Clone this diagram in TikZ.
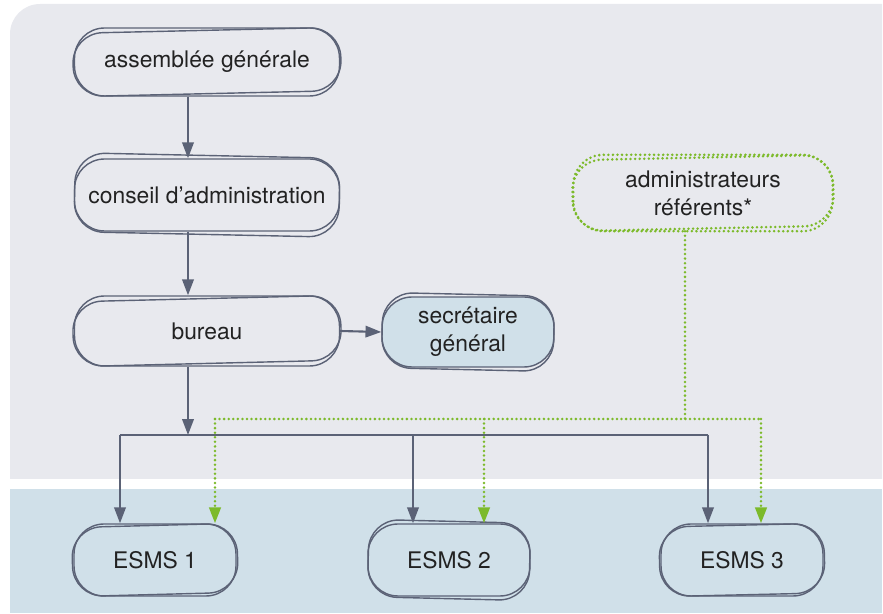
\documentclass[tikz,border=0pt]{standalone}
\usepackage{fontspec}
\setmainfont{TeX Gyre Heros}
\usepackage{xcolor}
\usetikzlibrary{arrows.meta}
\definecolor{linec}{HTML}{5B6276}
\definecolor{greenc}{HTML}{7CBA2A}
\definecolor{bggrey}{HTML}{E8E9EE}
\definecolor{bgblue}{HTML}{D0E0E9}
\definecolor{textc}{HTML}{222222}
\tikzset{
    box/.style={draw=linec, line width=0.8pt, rounded corners=0.6cm, align=center, text=textc,
        font=\fontsize{13}{16}\selectfont, inner sep=2pt},
    edge/.style={draw=linec, line width=0.8pt, rounded corners=0.6cm},
    arr/.style={linec, line width=1.2pt, -{Triangle[length=9pt, width=6.5pt]}},
    greenline/.style={greenc, line width=1.6pt, line cap=round, dash pattern=on 0pt off 2.6pt},
    greenarr/.style={greenline, -{Triangle[length=9pt, width=6.5pt, line cap=butt]}}
}
\begin{document}
\begin{tikzpicture}[x=0.02cm, y=-0.02cm]
            \useasboundingbox (0,0) rectangle (883,614);
            \fill[bggrey] (10,479) [rounded corners=0.6cm] -- (10,4) [sharp corners] -- (882,4) -- (882,479) -- cycle;
            \fill[bgblue] (10,489) rectangle (882,613);
            % boxes
            \node[box, minimum width=5.3cm, minimum height=1.36cm] (ag) at (207,62) {assemblée générale};
            \node[box, minimum width=5.3cm, minimum height=1.44cm] (ca) at (207,195) {conseil d’administration};
            \node[box, minimum width=5.3cm, minimum height=1.4cm] (bu) at (207,331) {bureau};
            \node[box, fill=bgblue, minimum width=3.44cm, minimum height=1.4cm] (sg) at (468,332) {secrétaire\\général};
            \node[box, draw=none, minimum width=5.16cm, minimum height=1.5cm] (ar) at (703,193) {administrateurs\\référents*};
            \node[box, minimum width=3.24cm, minimum height=1.44cm] (e1) at (155,560) {ESMS 1};
            \node[box, minimum width=3.24cm, minimum height=1.44cm] (e2) at (449,560) {ESMS 2};
            \node[box, minimum width=3.24cm, minimum height=1.44cm] (e3) at (742,560) {ESMS 3};
            % second outline
            \foreach \n/\a in {ag/1.3, ca/-1.2, bu/1.4, sg/-1.3, e1/1.5, e2/-1.4, e3/1.3}
                \draw[edge, rotate around={\a:(\n.center)}] (\n.south west) rectangle (\n.north east);
            \foreach \a in {0, 1.2}
                \draw[greenline, rounded corners=0.6cm, rotate around={\a:(ar.center)}] (ar.south west) rectangle (ar.north east);
            % connectors
            \coordinate (stem) at (188,435);
            \coordinate (busL) at (120,435);
            \coordinate (bus2) at (413,435);
            \coordinate (busR) at (708,435);
            \draw[arr] (ag.south -| stem) -- (ca.north -| stem);
            \draw[arr] (ca.south -| stem) -- (bu.north -| stem);
            \draw[arr] (bu.east) -- (sg.west);
            \draw[arr] (bu.south -| stem) -- (stem);
            \draw[linec, line width=1.2pt] (busL) -- (busR);
            \draw[arr] (busL) -- (e1.north -| busL);
            \draw[arr] (bus2) -- (e2.north -| bus2);
            \draw[arr] (busR) -- (e3.north -| busR);
            \coordinate (gtop) at (685,419);
            \coordinate (gL) at (215,419);
            \coordinate (g2) at (484,419);
            \coordinate (gR) at (761,419);
            \draw[greenline] (ar.south -| gtop) -- (gtop);
            \draw[greenline] (gL) -- (gR);
            \draw[greenarr] (gL) -- (e1.north -| gL);
            \draw[greenarr] (g2) -- (e2.north -| g2);
            \draw[greenarr] (gR) -- (e3.north -| gR);
        \end{tikzpicture}
\end{document}
